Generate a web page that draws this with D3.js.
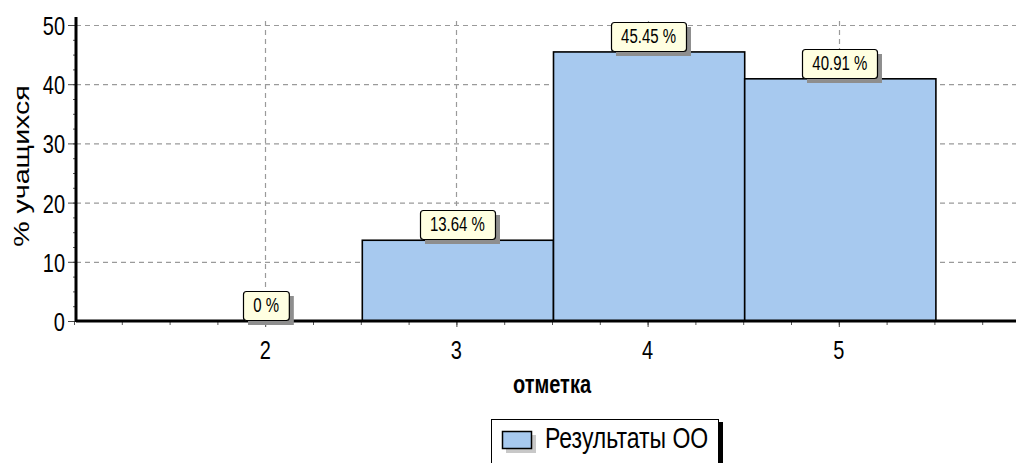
<!DOCTYPE html>
<html>
<head>
<meta charset="utf-8">
<script src="https://cdn.jsdelivr.net/npm/d3@7"></script>
<style>
  body { margin: 0; background: #fff; }
  svg { display: block; font-family: "Liberation Sans", Arial, sans-serif; }
  .grid line { stroke: #9a9a9a; stroke-width: 1.2; stroke-dasharray: 5 4; }
</style>
</head>
<body>
<div id="chart"></div>
<script>
(function() {
  // values
  const grades = [2, 3, 4, 5];
  const percents = [0, 13.64, 45.45, 40.91];
  const yTicks = [0, 10, 20, 30, 40, 50];
  const yTitle = "% учащихся";
  const xTitle = "отметка";
  const seriesName = "Результаты ОО";

  const W = 1016, H = 463;
  const stretch = 1.3;   // the source picture is taller than wide

  let svg = d3.select("#chart").append("svg")
    .attr("width", W).attr("height", H);

  let x = d3.scaleLinear().domain([1, 6]).range([74, 1030]);
  let y = d3.scaleLinear().domain([0, 50]).range([321, 25]);
  let left = 76, top = 17, right = W;

  // stretched text helper
  function label(g, tx, ty, str, size, anchor, extra) {
    return g.append("text")
      .attr("transform", "translate(" + tx + "," + ty + ") scale(1," + stretch + ")" + (extra || ""))
      .attr("text-anchor", anchor)
      .style("font-size", size + "px")
      .text(str);
  }

  // grid
  let grid = svg.append("g").attr("class", "grid");
  grid.selectAll("line.h").data(yTicks.slice(1)).enter().append("line")
    .attr("x1", left).attr("x2", right)
    .attr("y1", d => y(d) + 0.5).attr("y2", d => y(d) + 0.5);
  grid.selectAll("line.v").data(grades).enter().append("line")
    .attr("x1", d => Math.round(x(d)) + 0.5).attr("x2", d => Math.round(x(d)) + 0.5)
    .attr("y1", top + 4).attr("y2", y(0));

  // bars
  svg.append("g").selectAll("rect").data(grades.filter((g, i) => percents[i] > 0)).enter()
    .append("rect")
    .attr("x", d => x(d - 0.5) + 1.5)
    .attr("width", d => x(d + 0.5) - x(d - 0.5))
    .attr("y", d => y(percents[grades.indexOf(d)]))
    .attr("height", d => y(0) - y(percents[grades.indexOf(d)]))
    .attr("fill", "#a7c9ef")
    .attr("stroke", "#000")
    .attr("stroke-width", 1.6);

  // y axis ticks
  let yMinor = d3.range(0, 50.1, 2.5);
  let ya = svg.append("g").attr("transform", "translate(" + left + ",0)");
  ya.call(d3.axisLeft(y).tickValues(yMinor).tickSize(3).tickFormat(""));
  ya.selectAll(".tick line").attr("stroke", "#555");
  let yb = svg.append("g").attr("transform", "translate(" + left + ",0)");
  yb.call(d3.axisLeft(y).tickValues(yTicks).tickSize(8).tickFormat(""));
  yb.selectAll(".tick line").attr("stroke", "#444");
  ya.select(".domain").remove();
  yb.select(".domain").remove();
  yTicks.forEach(v => label(svg, 65, y(v) + 10, String(v), 20, "end"));

  // x axis ticks
  let xMinor = d3.range(1, 6.01, 0.25);
  let xa = svg.append("g").attr("transform", "translate(0," + y(0) + ")");
  xa.call(d3.axisBottom(x).tickValues(xMinor).tickSize(4).tickFormat(""));
  xa.selectAll(".tick line").attr("stroke", "#555");
  xa.select(".domain").remove();
  let xb = svg.append("g").attr("transform", "translate(0," + y(0) + ")");
  xb.call(d3.axisBottom(x).tickValues(grades).tickSize(6).tickFormat(""));
  xb.selectAll(".tick line").attr("stroke", "#444");
  xb.select(".domain").remove();
  grades.forEach(g => label(svg, x(g), 359, String(g), 20, "middle"));

  // axis lines
  svg.append("line").attr("x1", left).attr("x2", left).attr("y1", top).attr("y2", y(0) + 1)
    .attr("stroke", "#000").attr("stroke-width", 3);
  svg.append("line").attr("x1", left).attr("x2", right).attr("y1", y(0)).attr("y2", y(0))
    .attr("stroke", "#000").attr("stroke-width", 3);

  // value labels
  grades.forEach(function(g, i) {
    let v = percents[i];
    let txt = (v === 0 ? "0" : v.toFixed(2)) + " %";
    let lg = svg.append("g");
    let t = label(lg, x(g) + 1, 0, txt, 15, "middle");
    let w = t.node().getComputedTextLength() + 20;
    let h = 29;
    let bx = Math.round(x(g) + 1 - w / 2), by = Math.round(y(v) - 1 - h);
    lg.insert("rect", "text").attr("x", bx + 5).attr("y", by + 5).attr("width", w).attr("height", h)
      .attr("fill", "#8e8e8e");
    lg.insert("rect", "text").attr("x", bx + 0.5).attr("y", by + 0.5).attr("width", w).attr("height", h)
      .attr("rx", 3).attr("fill", "#ffffe1").attr("stroke", "#000").attr("stroke-width", 1.2);
    t.attr("transform", "translate(" + (x(g) + 1) + "," + (by + 21) + ") scale(1," + stretch + ")");
  });

  // axis titles
  label(svg, 29, 166, yTitle, 22, "middle", " rotate(-90)");
  label(svg, 552, 393, xTitle, 20, "middle").style("font-weight", "bold");

  // legend
  let leg = svg.append("g");
  leg.append("rect").attr("x", 495).attr("y", 422).attr("width", 228).attr("height", 60).attr("fill", "#000");
  leg.append("rect").attr("x", 491.5).attr("y", 419.5).attr("width", 227).attr("height", 60)
    .attr("fill", "#fff").attr("stroke", "#000").attr("stroke-width", 1);
  leg.append("rect").attr("x", 506).attr("y", 435).attr("width", 30).attr("height", 18).attr("fill", "#c8c8c8");
  leg.append("rect").attr("x", 502.5).attr("y", 431.5).attr("width", 29).attr("height", 17)
    .attr("fill", "#a7c9ef").attr("stroke", "#000").attr("stroke-width", 1.5);
  label(leg, 545, 448, seriesName, 23, "start");
})();
</script>
</body>
</html>
